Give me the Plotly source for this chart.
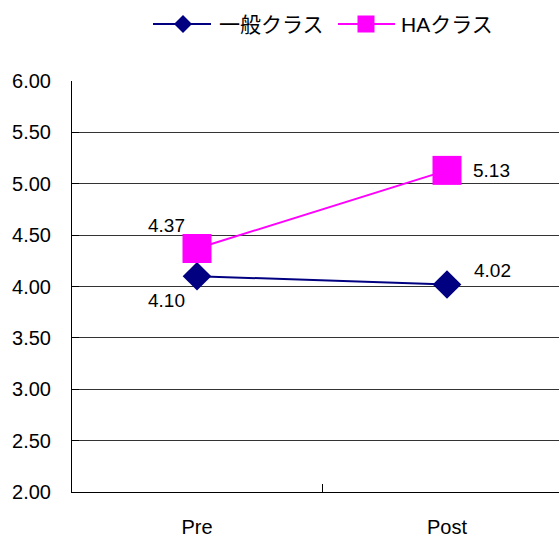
import plotly.graph_objects as go

# Survey averages before and after the course, by class
phases = ["Pre", "Post"]
general_class = [4.10, 4.02]
ha_class = [4.37, 5.13]
y_ticks = [2.0, 2.5, 3.0, 3.5, 4.0, 4.5, 5.0, 5.5, 6.0]
series_names = ["一般クラス", "HAクラス"]

FONT = "Liberation Sans, Arial, Noto Sans CJK JP, sans-serif"
NAVY = "#000080"
MAGENTA = "#FF00FF"

W, H = 559, 538
ML, MR, MT, MB = 72, 0, 81, 46
PW, PH = W - ML - MR, H - MT - MB


def px(x):
    """page pixel x -> paper fraction"""
    return (x - ML) / PW


def py(y):
    """page pixel y (from top) -> paper fraction"""
    return (H - MB - y) / PH


fig = go.Figure()
fig.add_trace(go.Scatter(
    x=phases, y=general_class, name=series_names[0], mode="lines+markers",
    line=dict(color=NAVY, width=2),
    marker=dict(symbol="diamond", size=22, color=NAVY),
    showlegend=False,
))
fig.add_trace(go.Scatter(
    x=phases, y=ha_class, name=series_names[1], mode="lines+markers",
    line=dict(color=MAGENTA, width=2),
    marker=dict(symbol="square", size=29, color=MAGENTA),
    showlegend=False,
))

# value labels, offset from each marker in pixels
offsets_general = [(-31, -24), (45, 14)]
offsets_ha = [(-31, 23), (44, 0)]
for vals, offs in ((general_class, offsets_general), (ha_class, offsets_ha)):
    for cat, v, (dx, dy) in zip(phases, vals, offs):
        fig.add_annotation(
            x=cat, y=v, text=f"{v:.2f}", showarrow=False,
            xshift=dx, yshift=dy, font=dict(family=FONT, size=19, color="#000"),
        )

# legend row at the top: long sample line with its marker, then the name
LEG_Y = 24
legend_items = [
    (153, 211, 183, "diamond", NAVY, series_names[0], 217),
    (338, 395, 366, "square", MAGENTA, series_names[1], 399),
]
for x0, x1, xm, sym, col, label, xt in legend_items:
    fig.add_shape(type="line", xref="paper", yref="paper",
                  x0=px(x0), x1=px(x1), y0=py(LEG_Y), y1=py(LEG_Y),
                  line=dict(color=col, width=2))
    if sym == "diamond":
        r = 9
        path = (f"M{px(xm - r)},{py(LEG_Y)} L{px(xm)},{py(LEG_Y - r)} "
                f"L{px(xm + r)},{py(LEG_Y)} L{px(xm)},{py(LEG_Y + r)} Z")
    else:
        r = 8.5
        path = (f"M{px(xm - r)},{py(LEG_Y - r)} L{px(xm + r)},{py(LEG_Y - r)} "
                f"L{px(xm + r)},{py(LEG_Y + r)} L{px(xm - r)},{py(LEG_Y + r)} Z")
    fig.add_shape(type="path", xref="paper", yref="paper", path=path,
                  fillcolor=col, line=dict(color=col, width=0))
    fig.add_annotation(xref="paper", yref="paper", x=px(xt), y=py(LEG_Y),
                       xanchor="left", yanchor="middle", showarrow=False,
                       text=label, font=dict(family=FONT, size=21, color="#000"))

fig.update_layout(
    width=W, height=H,
    margin=dict(l=ML, r=MR, t=MT, b=MB),
    paper_bgcolor="white", plot_bgcolor="white",
    font=dict(family=FONT, size=19, color="#000"),
    showlegend=False,
)
fig.update_xaxes(
    type="category", categoryorder="array", categoryarray=phases,
    range=[-0.5, 1.448], showgrid=False, zeroline=False,
    showline=True, linecolor="#000", linewidth=1,
    ticks="inside", tickson="boundaries", ticklen=8, tickcolor="#000",
    ticklabelstandoff=17, automargin=False,
    tickfont=dict(size=20),
)
fig.update_yaxes(
    range=[2, 6], tickvals=y_ticks, ticktext=[f"{t:.2f}" for t in y_ticks],
    showgrid=True, gridcolor="#333333", gridwidth=1, zeroline=False,
    showline=True, linecolor="#000", linewidth=1,
    ticks="inside", ticklen=7, tickcolor="#000",
    ticklabelstandoff=16, automargin=False,
    tickfont=dict(size=20),
)

fig.write_html("out.html")
